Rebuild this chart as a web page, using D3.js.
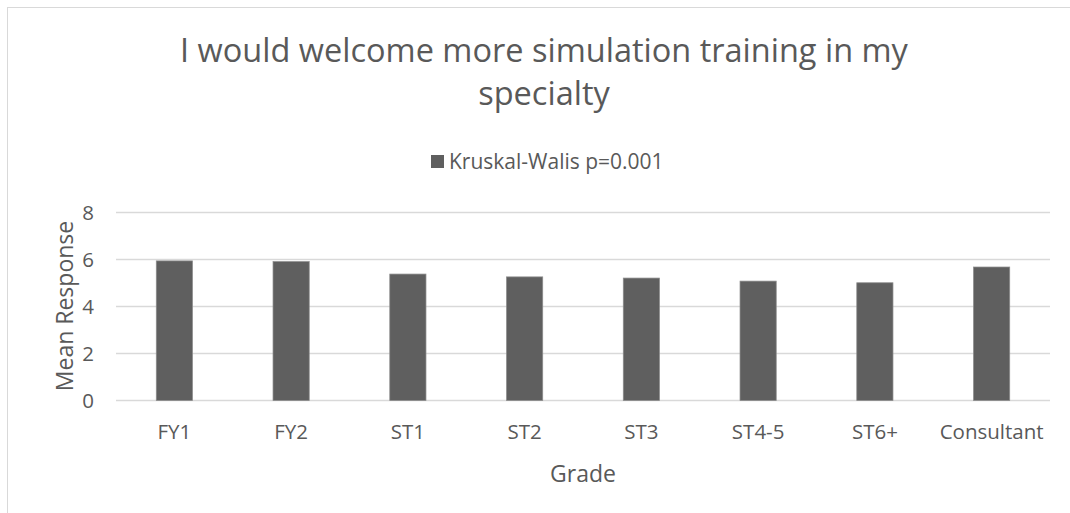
<!DOCTYPE html>
<html>
<head>
<meta charset="utf-8">
<script src="https://cdn.jsdelivr.net/npm/d3@7"></script>
<style>
  body { margin: 0; background: #fff; }
  svg text { font-family: "Open Sans", sans-serif; fill: #595959; }
</style>
</head>
<body>
<div id="chart"></div>
<script>
const grades = ['FY1', 'FY2', 'ST1', 'ST2', 'ST3', 'ST4-5', 'ST6+', 'Consultant'];
const meanResponse = [5.94, 5.91, 5.38, 5.26, 5.21, 5.08, 5.01, 5.68];
const yTicks = [0, 2, 4, 6, 8];
const titleLines = ['I would welcome more simulation training in my', 'specialty'];
const seriesName = 'Kruskal-Walis p=0.001';

const width = 1070, height = 513;
const plot = {left: 116, right: 1050, top: 212.5, bottom: 400.5};

const svg = d3.select('#chart')
    .append('svg')
    .attr('width', width)
    .attr('height', height);

// chart frame
svg.append('rect')
    .attr('x', 7.5)
    .attr('y', 7.5)
    .attr('width', width + 10)
    .attr('height', height + 10)
    .attr('fill', 'none')
    .attr('stroke', '#d9d9d9')
    .attr('stroke-width', 1);

const x = d3.scaleBand()
    .domain(grades)
    .range([plot.left, plot.right]);

const y = d3.scaleLinear()
    .domain([0, 8])
    .range([plot.bottom, plot.top]);

// gridlines
svg.append('g')
    .selectAll('line')
    .data(yTicks)
    .join('line')
    .attr('x1', plot.left)
    .attr('x2', plot.right)
    .attr('y1', d => y(d))
    .attr('y2', d => y(d))
    .attr('stroke', '#d9d9d9')
    .attr('stroke-width', 1.5);

// y axis labels
const yAxis = svg.append('g')
    .attr('transform', `translate(${plot.left - 22},0)`)
    .call(d3.axisLeft(y).tickValues(yTicks).tickSize(0).tickPadding(0));
yAxis.select('.domain').remove();
yAxis.selectAll('text')
    .style('font-size', '20.5px')
    .style('font-family', '"Open Sans", sans-serif')
    .attr('fill', '#595959');

// bars
const barW = x.bandwidth() * 0.31;
svg.append('g')
    .selectAll('rect')
    .data(meanResponse)
    .join('rect')
    .attr('x', (d, i) => x(grades[i]) + (x.bandwidth() - barW) / 2)
    .attr('y', d => y(d))
    .attr('width', barW)
    .attr('height', d => y(0) - y(d))
    .attr('fill', '#5f5f5f')
    .attr('stroke', '#8c8c8c')
    .attr('stroke-width', 0.75);

// x axis labels
const xAxis = svg.append('g')
    .attr('transform', `translate(0,416)`)
    .call(d3.axisBottom(x).tickSize(0).tickPadding(8));
xAxis.select('.domain').remove();
xAxis.selectAll('text')
    .style('font-size', '20.5px')
    .style('font-family', '"Open Sans", sans-serif')
    .attr('fill', '#595959');

// title
svg.append('text')
    .attr('text-anchor', 'middle')
    .style('font-size', '32.5px')
    .selectAll('tspan')
    .data(titleLines)
    .join('tspan')
    .attr('x', 544)
    .attr('y', (d, i) => 62 + i * 43)
    .text(d => d);

// legend
svg.append('rect')
    .attr('x', 431)
    .attr('y', 155)
    .attr('width', 13)
    .attr('height', 13)
    .attr('fill', '#5f5f5f');
svg.append('text')
    .attr('x', 449)
    .attr('y', 169)
    .style('font-size', '21px')
    .text(seriesName);

// axis titles
svg.append('text')
    .attr('transform', `translate(73,306) rotate(-90)`)
    .attr('text-anchor', 'middle')
    .style('font-size', '23px')
    .text('Mean Response');

svg.append('text')
    .attr('x', 583)
    .attr('y', 482)
    .attr('text-anchor', 'middle')
    .style('font-size', '23px')
    .text('Grade');
</script>
</body>
</html>
